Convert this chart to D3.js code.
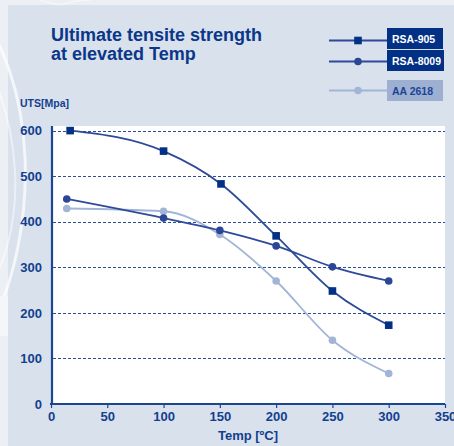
<!DOCTYPE html>
<html>
<head>
<meta charset="utf-8">
<script src="https://cdn.jsdelivr.net/npm/d3@7"></script>
<style>
	body { margin: 0; background: #d9e1ec; }
	svg { display: block; font-family: 'Liberation Sans', Arial, sans-serif; font-weight: bold; }
</style>
</head>
<body>
<svg width="454" height="446"></svg>
<script>
// series values
var seriesNames = ['RSA-905', 'RSA-8009', 'AA 2618'];
var rsa905Temp = [17, 100, 151, 200, 250, 300];
var rsa905Uts = [600, 555, 483, 369, 248, 173];
var rsa8009Temp = [14, 100, 150, 200, 250, 300];
var rsa8009Uts = [450, 408, 381, 347, 301, 270];
var aa2618Temp = [14, 100, 150, 200, 250, 300];
var aa2618Uts = [429, 423, 372, 270, 140, 67];
var xTicks = [0, 50, 100, 150, 200, 250, 300, 350];
var yTicks = [0, 100, 200, 300, 400, 500, 600];

var navy = '#0a3789',
	textBlue = '#12408f';

var series = [
	{ name: seriesNames[0], xs: rsa905Temp, ys: rsa905Uts, line: '#2c4a98', mark: '#023085', shape: 'square', box: '#023085', boxText: '#ffffff' },
	{ name: seriesNames[1], xs: rsa8009Temp, ys: rsa8009Uts, line: '#2d4a9b', mark: '#2b4696', shape: 'circle', box: '#023085', boxText: '#ffffff' },
	{ name: seriesNames[2], xs: aa2618Temp, ys: aa2618Uts, line: '#a2b5d7', mark: '#a2b5d7', shape: 'circle', box: '#9db0d2', boxText: '#1c4595' }
];

var svg = d3.select('svg');

// background panel
svg.append('rect').attr('x', 0).attr('y', 0).attr('width', 454).attr('height', 446).attr('fill', '#eceff4');
svg.append('rect').attr('x', 8).attr('y', 5).attr('width', 446).attr('height', 441).attr('fill', '#d9e1ec');

// faint swirl on the left edge
var swirl = svg.append('g').attr('fill', 'none').attr('stroke', '#ffffff');
swirl.append('path').attr('d', 'M-30,0 C40,80 40,230 -10,330').attr('stroke-width', 3).attr('opacity', 0.7);
swirl.append('path').attr('d', 'M-40,20 C30,110 30,240 -20,300').attr('stroke-width', 2).attr('opacity', 0.5);
swirl.append('path').attr('d', 'M40,0 C70,10 60,0 90,0').attr('stroke-width', 2).attr('opacity', 0.4);
svg.append('rect').attr('x', 0).attr('y', 296).attr('width', 8).attr('height', 40).attr('fill', '#f4f6f9');

var margin = { top: 130, left: 51, right: 9, bottom: 42 };
var x = d3.scaleLinear().domain([0, 350]).range([51, 445]);
var y = d3.scaleLinear().domain([0, 600]).range([404, 130.6]);

// white plot area
svg.append('rect')
	.attr('x', 52).attr('y', 126)
	.attr('width', 445 - 52).attr('height', 404 - 126)
	.attr('fill', '#ffffff');

// dashed grid
svg.append('g')
	.selectAll('line')
	.data(yTicks.filter(function(d) { return d > 0; }))
	.enter().append('line')
	.attr('x1', 53).attr('x2', 445)
	.attr('y1', function(d) { return Math.round(y(d)) + 0.5; })
	.attr('y2', function(d) { return Math.round(y(d)) + 0.5; })
	.attr('stroke', '#2a4f97')
	.attr('stroke-width', 1)
	.attr('stroke-dasharray', '3,2');

// axes
var xAxis = svg.append('g')
	.attr('transform', 'translate(0,404)')
	.call(d3.axisBottom(x).tickValues(xTicks).tickSize(4).tickPadding(4).tickSizeOuter(0));
var yAxis = svg.append('g')
	.attr('transform', 'translate(52,0)')
	.call(d3.axisLeft(y).tickValues(yTicks).tickSize(4).tickPadding(6).tickSizeOuter(0));

xAxis.select('.domain').attr('stroke', '#1c4595').attr('stroke-width', 2.2).attr('d', 'M50,0H445');
yAxis.select('.domain').attr('stroke', '#1c4595').attr('stroke-width', 2.2).attr('d', 'M0,126V405');
xAxis.selectAll('.tick line').attr('stroke', '#1c4595').attr('stroke-width', 1.2);
yAxis.selectAll('.tick line').attr('stroke', '#1c4595').attr('stroke-width', 1).attr('x2', 0);
xAxis.selectAll('.tick text').attr('fill', textBlue).attr('font-size', 13).attr('font-weight', 'bold').attr('font-family', 'Liberation Sans, Arial, sans-serif');
yAxis.selectAll('.tick text').attr('fill', textBlue).attr('font-size', 13).attr('font-weight', 'bold').attr('font-family', 'Liberation Sans, Arial, sans-serif').attr('x', -10);

// axis titles
svg.append('text').attr('x', 248).attr('y', 440).attr('text-anchor', 'middle')
	.attr('fill', textBlue).attr('font-size', 13).text('Temp [ºC]');
svg.append('text').attr('x', 20).attr('y', 107)
	.attr('fill', textBlue).attr('font-size', 10.5).text('UTS[Mpa]');

// chart title
var title = svg.append('text').attr('fill', navy).attr('font-size', 18);
title.append('tspan').attr('x', 51).attr('y', 41).text('Ultimate tensite strength');
title.append('tspan').attr('x', 51).attr('y', 60).text('at elevated Temp');

// lines and markers
var line = d3.line()
	.x(function(d) { return x(d[0]); })
	.y(function(d) { return y(d[1]); })
	.curve(d3.curveMonotoneX);

function drawMarker(g, s, cx, cy) {
	if (s.shape === 'square') {
		g.append('rect').attr('x', cx - 3.8).attr('y', cy - 3.8).attr('width', 7.6).attr('height', 7.6).attr('fill', s.mark);
	} else {
		g.append('circle').attr('cx', cx).attr('cy', cy).attr('r', 3.8).attr('fill', s.mark);
	}
}

// draw light series first so dark ones sit on top
series.slice().reverse().forEach(function(s) {
	var pts = s.xs.map(function(v, i) { return [v, s.ys[i]]; });
	var g = svg.append('g');
	g.append('path').datum(pts)
		.attr('d', line)
		.attr('fill', 'none')
		.attr('stroke', s.line)
		.attr('stroke-width', 1.8);
	pts.forEach(function(p) { drawMarker(g, s, x(p[0]), y(p[1])); });
});

// legend
var legendY = [40.5, 61.5, 90.5];
var boxY = [28, 50, 80];
series.forEach(function(s, i) {
	var g = svg.append('g');
	g.append('line').attr('x1', 329).attr('x2', 388).attr('y1', legendY[i]).attr('y2', legendY[i])
		.attr('stroke', s.line).attr('stroke-width', 1.8);
	drawMarker(g, s, 358, legendY[i]);
	g.append('rect').attr('x', 387).attr('y', boxY[i]).attr('width', i === 1 ? 57 : 56).attr('height', 21)
		.attr('fill', s.box);
	g.append('text').attr('x', 392).attr('y', boxY[i] + 14.5)
		.attr('fill', s.boxText).attr('font-size', 10.5).text(s.name);
});
</script>
</body>
</html>
